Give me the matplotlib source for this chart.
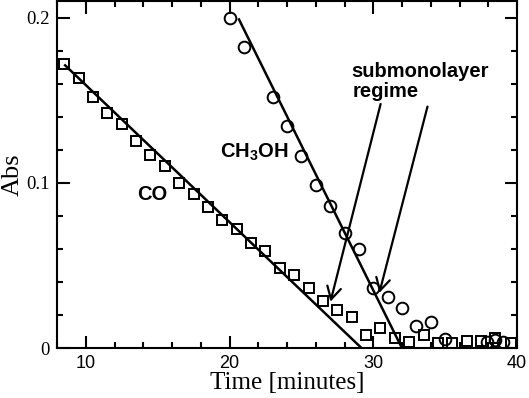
import matplotlib
matplotlib.use("Agg")
import matplotlib.pyplot as plt
from matplotlib.ticker import MultipleLocator

# ---- data ----
co_time = [8.5, 9.5, 10.5, 11.5, 12.5, 13.5, 14.5, 15.5, 16.5, 17.5, 18.5, 19.5,
           20.5, 21.5, 22.5, 23.5, 24.5, 25.5, 26.5, 27.5, 28.5, 29.5, 30.5, 31.5,
           32.5, 33.5, 34.5, 35.5, 36.5, 37.5, 38.5, 39.6]
co_abs = [0.1717, 0.1635, 0.1520, 0.1423, 0.1357, 0.1254, 0.1169, 0.1103, 0.0999,
          0.0933, 0.0855, 0.0776, 0.0722, 0.0637, 0.0589, 0.0488, 0.0446, 0.0363,
          0.0288, 0.0232, 0.0191, 0.0081, 0.0121, 0.0060, 0.0040, 0.0081, 0.0034,
          0.0034, 0.0046, 0.0046, 0.0060, 0.0034]

meoh_time = [20.0, 21.0, 23.0, 24.0, 25.0, 26.0, 27.0, 28.0, 29.0, 30.0, 31.0,
             32.0, 33.0, 34.0, 35.0, 37.9, 38.5, 39.0]
meoh_abs = [0.1998, 0.1823, 0.1523, 0.1342, 0.1166, 0.0985, 0.0863, 0.0698,
            0.0598, 0.0365, 0.0313, 0.0244, 0.0135, 0.0159, 0.0059, 0.0038,
            0.0050, 0.0038]

co_fit_time = [8.5, 29.2]
co_fit_abs = [0.1717, 0.0]
meoh_fit_time = [20.62, 32.0]
meoh_fit_abs = [0.1996, 0.0]

arrow1_start = (30.51, 0.1478)
arrow1_tip = (27.02, 0.0282)
arrow2_start = (33.77, 0.1462)
arrow2_tip = (30.42, 0.0335)

x_ticks = [10, 20, 30, 40]
y_ticks = [0, 0.1, 0.2]
y_tick_labels = ["0", "0.1", "0.2"]

plt.rcParams['mathtext.fontset'] = 'custom'
plt.rcParams['mathtext.bf'] = 'Liberation Sans:bold'
plt.rcParams['mathtext.rm'] = 'Liberation Sans:bold'

fig = plt.figure(figsize=(5.29, 3.98), dpi=100)
ax = fig.add_axes([0.1078, 0.1249, 0.8696, 0.8726])

ax.plot(co_fit_time, co_fit_abs, color='black', lw=1.8, solid_capstyle='butt')
ax.plot(meoh_fit_time, meoh_fit_abs, color='black', lw=1.8, solid_capstyle='butt')
ax.plot(co_time, co_abs, linestyle='none', marker='s', ms=7.0, mew=1.4,
        mfc='none', mec='black')
ax.plot(meoh_time, meoh_abs, linestyle='none', marker='o', ms=8.4, mew=1.4,
        mfc='none', mec='black')

for start, tip in [(arrow1_start, arrow1_tip), (arrow2_start, arrow2_tip)]:
    ax.annotate('', xy=tip, xytext=start,
                arrowprops=dict(arrowstyle='->,head_length=0.45,head_width=0.25',
                                lw=1.6, color='black', shrinkA=0, shrinkB=0,
                                mutation_scale=20))

bold = dict(family='Liberation Sans', weight='bold', fontsize=14.5)
ax.text(13.55, 0.0895, 'CO', va='baseline', ha='left', **bold)
ax.text(19.33, 0.1155, r'$\mathbf{CH_3OH}$', va='baseline', ha='left', fontsize=14.5)
ax.text(28.5, 0.1640, 'submonolayer', va='baseline', ha='left', **bold)
ax.text(28.55, 0.1520, 'regime', va='baseline', ha='left', **bold)

ax.set_xlim(8, 40)
ax.set_ylim(0, 0.2101)
ax.set_xticks(x_ticks)
ax.set_yticks(y_ticks)
ax.set_yticklabels(y_tick_labels)
ax.xaxis.set_minor_locator(MultipleLocator(2))
ax.yaxis.set_minor_locator(MultipleLocator(0.02))
ax.tick_params(which='both', direction='in', top=True, right=True, width=1.5)
ax.tick_params(which='major', length=9)
ax.tick_params(which='minor', length=4.5)
ax.tick_params(axis='x', pad=5)
ax.tick_params(axis='y', pad=5)
for lab in ax.get_xticklabels():
    lab.set_family('Liberation Sans')
    lab.set_fontsize(13)
for lab in ax.get_yticklabels():
    lab.set_family('Liberation Serif')
    lab.set_fontsize(13.5)
for sp in ax.spines.values():
    sp.set_linewidth(1.5)

ax.set_xlabel('Time [minutes]', family='Liberation Serif', fontsize=18, labelpad=0)
ax.set_ylabel('Abs', family='Liberation Serif', fontsize=19, labelpad=2)

fig.savefig('out.png', dpi=100)
